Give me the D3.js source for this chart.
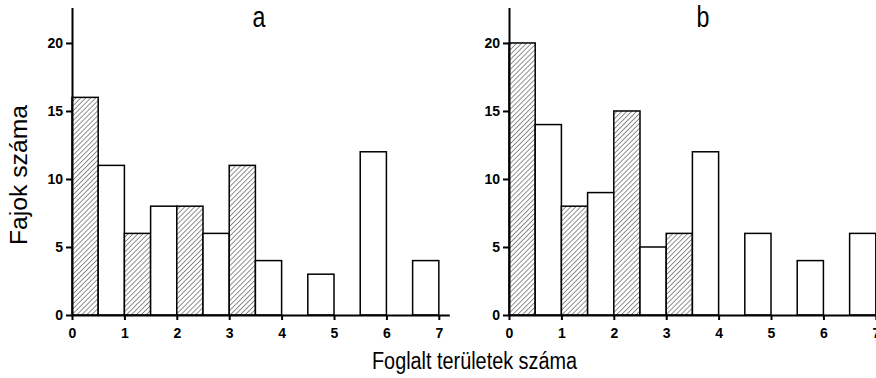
<!DOCTYPE html>
<html>
  <head>
    <meta charset="utf-8">
    <title>Fajok száma</title>
    <script type="text/javascript" src="https://cdn.jsdelivr.net/npm/d3@7/dist/d3.min.js"></script>
    <style>
      body { margin: 0; background: #fff; }
      .axis path, .axis line { stroke: #000; stroke-width: 2; }
      .axis text { font-family: "Liberation Sans", Arial, sans-serif; font-size: 14px; font-weight: bold; fill: #000; }
      .title { font-family: "Liberation Sans", Arial, sans-serif; fill: #000; }
    </style>
  </head>
  <body>
<script type="text/javascript">
var w = 876;
var h = 378;

// bins 0..6, hatched bar on [k, k+0.5], white bar on [k+0.5, k+1]
var bins = [0, 1, 2, 3, 4, 5, 6];
var hatchedA = [16, 6, 8, 11, 0, 0, 0];
var whiteA = [11, 8, 6, 4, 3, 12, 4];
var hatchedB = [20, 8, 15, 6, 0, 0, 0];
var whiteB = [14, 9, 5, 12, 6, 4, 6];
var xTicks = [0, 1, 2, 3, 4, 5, 6, 7];
var yTicks = [0, 5, 10, 15, 20];

var svg = d3.select("body")
            .append("svg")
            .attr("width", w)
            .attr("height", h);

var defs = svg.append("defs");
var pat = defs.append("pattern")
              .attr("id", "hatch")
              .attr("patternUnits", "userSpaceOnUse")
              .attr("width", 3.5)
              .attr("height", 3.5)
              .attr("patternTransform", "rotate(45)");
pat.append("rect").attr("width", 3.5).attr("height", 3.5).attr("fill", "#fff");
pat.append("line")
   .attr("x1", 0).attr("y1", 0)
   .attr("x2", 0).attr("y2", 3.5)
   .attr("stroke", "#222")
   .attr("stroke-width", 1);

var Yscale = d3.scaleLinear()
               .domain([0, 22.6])
               .range([315, 7.6]);

function drawPanel(left, hatched, white, label) {
  var Xscale = d3.scaleLinear()
                 .domain([0, 7.2])
                 .range([left, left + 377.3]);
  var g = svg.append("g");

  var bars = [];
  bins.forEach(function(k, i) {
    if (hatched[i] > 0) bars.push({x0: k, x1: k + 0.5, v: hatched[i], fill: "url(#hatch)"});
    if (white[i] > 0) bars.push({x0: k + 0.5, x1: k + 1, v: white[i], fill: "#fff"});
  });

  g.selectAll("rect.bar")
   .data(bars)
   .enter()
   .append("rect")
   .attr("class", "bar")
   .attr("x", function(d) { return Xscale(d.x0); })
   .attr("width", function(d) { return Xscale(d.x1) - Xscale(d.x0); })
   .attr("y", function(d) { return Yscale(d.v); })
   .attr("height", function(d) { return Yscale(0) - Yscale(d.v); })
   .attr("fill", function(d) { return d.fill; })
   .attr("stroke", "#000")
   .attr("stroke-width", 1.5);

  var xAxis = d3.axisBottom(Xscale)
                .tickValues(xTicks)
                .tickFormat(d3.format("d"))
                .tickSize(5)
                .tickSizeOuter(0)
                .tickPadding(8);
  var yAxis = d3.axisLeft(Yscale)
                .tickValues(yTicks)
                .tickSize(6)
                .tickSizeOuter(0)
                .tickPadding(3);

  g.append("g")
   .attr("class", "axis")
   .attr("transform", "translate(0," + Yscale(0) + ")")
   .call(xAxis)
   .attr("font-family", null).attr("font-size", null);
  g.append("g")
   .attr("class", "axis")
   .attr("transform", "translate(" + left + ",0)")
   .call(yAxis)
   .attr("font-family", null).attr("font-size", null);

  var cx = Xscale(0) + (label === "a" ? 187 : 194);
  g.append("text")
   .attr("class", "title")
   .attr("transform", "translate(" + cx + ",27) scale(0.8,1)")
   .attr("text-anchor", "middle")
   .attr("font-size", 29)
   .text(label);
}

drawPanel(72, hatchedA, whiteA, "a");
drawPanel(509, hatchedB, whiteB, "b");

svg.append("text")
   .attr("class", "title")
   .attr("x", 372)
   .attr("y", 369)
   .attr("font-size", 23)
   .attr("textLength", 205)
   .attr("lengthAdjust", "spacingAndGlyphs")
   .text("Foglalt területek száma");

svg.append("text")
   .attr("class", "title")
   .attr("transform", "translate(27,245) rotate(-90)")
   .attr("font-size", 23)
   .attr("textLength", 140)
   .attr("lengthAdjust", "spacingAndGlyphs")
   .text("Fajok száma");
</script>
  </body>
</html>
